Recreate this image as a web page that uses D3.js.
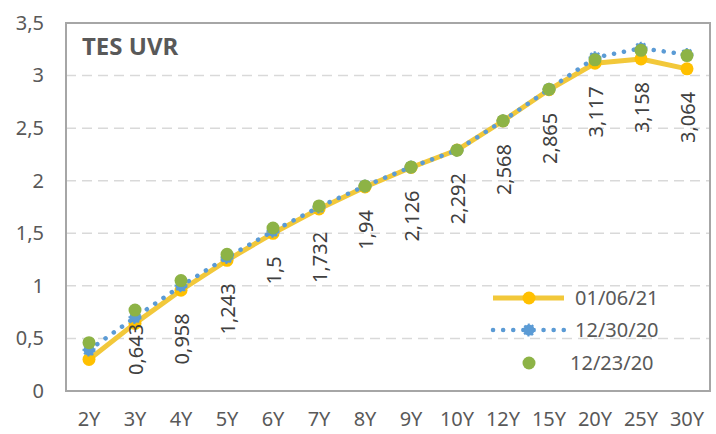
<!DOCTYPE html>
<html>
<head>
<meta charset="utf-8">
<script src="https://cdn.jsdelivr.net/npm/d3@7"></script>
<style>
	body { margin: 0; background: #fff; }
	text { font-family: "Noto Sans", sans-serif; }
</style>
</head>
<body>
<script>
const tenors = ["2Y", "3Y", "4Y", "5Y", "6Y", "7Y", "8Y", "9Y", "10Y", "12Y", "15Y", "20Y", "25Y", "30Y"];
const jan06 = [0.3, 0.643, 0.958, 1.243, 1.5, 1.732, 1.94, 2.126, 2.292, 2.568, 2.865, 3.117, 3.158, 3.064];
const dec30 = [0.39, 0.70, 1.0, 1.27, 1.52, 1.75, 1.95, 2.13, 2.29, 2.57, 2.87, 3.17, 3.26, 3.20];
const dec23 = [0.46, 0.77, 1.05, 1.30, 1.55, 1.76, 1.95, 2.13, 2.29, 2.57, 2.87, 3.15, 3.24, 3.19];
const yTicks = [0, 0.5, 1, 1.5, 2, 2.5, 3, 3.5];
const seriesNames = ["01/06/21", "12/30/20", "12/23/20"];

const width = 716, height = 434;
const margin = { top: 23, right: 6, bottom: 43, left: 66 };
const fontSize = "20px";

const svg = d3.select("body").append("svg")
	.attr("width", width)
	.attr("height", height);

const x = d3.scaleBand()
	.domain(tenors)
	.range([margin.left, width - margin.right]);
const y = d3.scaleLinear()
	.domain([0, 3.5])
	.range([height - margin.bottom, margin.top]);

const fmt = (v) => String(v).replace(".", ",");
const cx = (d, i) => x(tenors[i]) + x.bandwidth() / 2;

// gridlines
svg.append("g")
	.selectAll("line")
	.data(yTicks.filter(t => t > 0 && t < 3.5))
	.enter()
	.append("line")
	.attr("x1", margin.left)
	.attr("x2", width - margin.right)
	.attr("y1", d => y(d))
	.attr("y2", d => y(d))
	.attr("stroke", "#d9d9d9")
	.attr("stroke-width", 1.5)
	.attr("stroke-dasharray", "10 6");

// plot border
svg.append("rect")
	.attr("x", margin.left)
	.attr("y", margin.top)
	.attr("width", width - margin.right - margin.left)
	.attr("height", height - margin.bottom - margin.top)
	.attr("fill", "none")
	.attr("stroke", "#a6a6a6")
	.attr("stroke-width", 2);

// y axis labels
const yAxis = svg.append("g")
	.attr("transform", `translate(${margin.left},0)`)
	.call(d3.axisLeft(y).tickValues(yTicks).tickSize(0).tickPadding(22).tickFormat(fmt));
yAxis.select(".domain").remove();
yAxis.selectAll("text")
	.attr("fill", "#595959")
	.style("font-size", fontSize)
	.style("font-family", "Noto Sans");

// x axis labels
const xAxis = svg.append("g")
	.attr("transform", `translate(0,${height - margin.bottom})`)
	.call(d3.axisBottom(x).tickSize(0).tickPadding(21));
xAxis.select(".domain").remove();
xAxis.selectAll("text")
	.attr("fill", "#595959")
	.style("font-size", fontSize)
	.style("font-family", "Noto Sans");

// title
svg.append("text")
	.attr("x", 82)
	.attr("y", 55)
	.attr("fill", "#595959")
	.style("font-size", "24px")
	.style("font-weight", "bold")
	.text("TES UVR");

const line = d3.line()
	.x(cx)
	.y(d => y(d));

// 01/06/21
svg.append("path")
	.datum(jan06)
	.attr("d", line)
	.attr("fill", "none")
	.attr("stroke", "#f2c83a")
	.attr("stroke-width", 5)
	.attr("stroke-linejoin", "round");
svg.append("g")
	.selectAll("circle")
	.data(jan06)
	.enter()
	.append("circle")
	.attr("cx", cx)
	.attr("cy", d => y(d))
	.attr("r", 6.5)
	.attr("fill", "#ffc000");

// 12/30/20
svg.append("path")
	.datum(dec30)
	.attr("d", line)
	.attr("fill", "none")
	.attr("stroke", "#5b9bd5")
	.attr("stroke-width", 4.5)
	.attr("stroke-linecap", "round")
	.attr("stroke-dasharray", "0.1 10");
svg.append("g")
	.selectAll("circle")
	.data(dec30)
	.enter()
	.append("circle")
	.attr("cx", cx)
	.attr("cy", d => y(d))
	.attr("r", 5.5)
	.attr("fill", "#5b9bd5")
	.attr("stroke", "#5b9bd5")
	.attr("stroke-width", 2)
	.attr("stroke-dasharray", "2 2");

// 12/23/20
svg.append("g")
	.selectAll("circle")
	.data(dec23)
	.enter()
	.append("circle")
	.attr("cx", cx)
	.attr("cy", d => y(d))
	.attr("r", 6.5)
	.attr("fill", "#8db346");

// data labels (rotated, below points, kept inside the plot)
const labels = svg.append("g")
	.selectAll("text")
	.data(jan06.map((v, i) => ({ v, i })).filter(d => d.i > 0))
	.enter()
	.append("text")
	.attr("text-anchor", "end")
	.attr("fill", "#404040")
	.style("font-size", fontSize)
	.text(d => fmt(d.v));
labels.attr("transform", function (d) {
	const len = this.getComputedTextLength();
	const top = Math.min(y(d.v) + 23, height - margin.bottom - 16 - len);
	return `translate(${cx(d.v, d.i) + 7.5},${top}) rotate(-90)`;
});

// legend
const legend = svg.append("g");
const legendRows = [298, 330, 363];
const lx1 = 493, lx2 = 564, lm = 529;

legend.append("line")
	.attr("x1", lx1).attr("x2", lx2)
	.attr("y1", legendRows[0]).attr("y2", legendRows[0])
	.attr("stroke", "#f2c83a").attr("stroke-width", 5);
legend.append("circle")
	.attr("cx", lm).attr("cy", legendRows[0]).attr("r", 6.5).attr("fill", "#ffc000");

legend.append("line")
	.attr("x1", lx1).attr("x2", lx2)
	.attr("y1", legendRows[1]).attr("y2", legendRows[1])
	.attr("stroke", "#5b9bd5").attr("stroke-width", 4.5)
	.attr("stroke-linecap", "round").attr("stroke-dasharray", "0.1 10");
legend.append("circle")
	.attr("cx", lm).attr("cy", legendRows[1]).attr("r", 5.5)
	.attr("fill", "#5b9bd5").attr("stroke", "#5b9bd5")
	.attr("stroke-width", 2).attr("stroke-dasharray", "2 2");

legend.append("circle")
	.attr("cx", lm).attr("cy", legendRows[2]).attr("r", 6.5).attr("fill", "#8db346");

legend.selectAll("text.lg")
	.data(seriesNames)
	.enter()
	.append("text")
	.attr("class", "lg")
	.attr("x", (d, i) => i === 2 ? 570 : 575)
	.attr("y", (d, i) => legendRows[i])
	.attr("dy", "0.35em")
	.attr("fill", "#595959")
	.style("font-size", fontSize)
	.text(d => d);
</script>
</body>
</html>
